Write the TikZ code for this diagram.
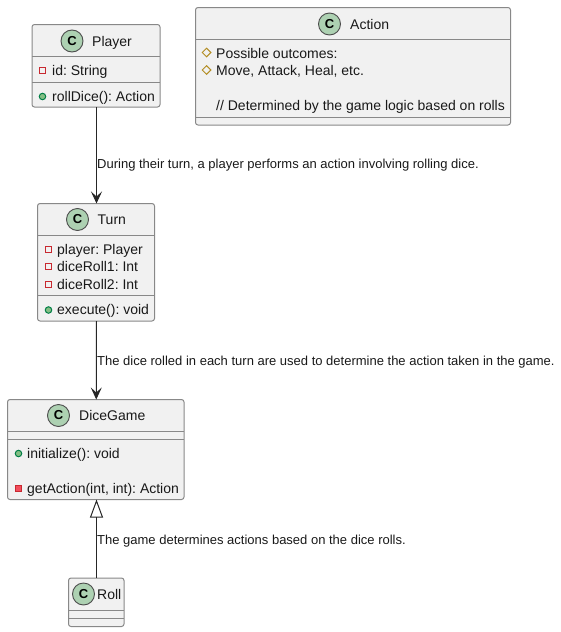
\documentclass[tikz,border=0pt]{standalone}
\usepackage{fontspec}
\setmainfont{Liberation Sans}
\usetikzlibrary{arrows.meta,shapes.geometric}
\definecolor{boxfill}{HTML}{F1F1F1}
\definecolor{boxline}{HTML}{888888}
\definecolor{iconfill}{HTML}{ADD1B2}
\definecolor{privline}{HTML}{C82930}
\definecolor{privfill}{HTML}{F24D5C}
\definecolor{publine}{HTML}{038048}
\definecolor{pubfill}{HTML}{84BE84}
\definecolor{protline}{HTML}{B38D22}
\frenchspacing
\tikzset{
  classbox/.style={draw=boxline,fill=boxfill,line width=1pt,rounded corners=2.5pt,inner sep=0pt,outer sep=0pt},
  divider/.style={draw=boxline,line width=1pt},
  classicon/.style={circle,draw=black!70,fill=iconfill,line width=0.9pt,minimum size=22pt,inner sep=0pt,font=\fontsize{13}{13}\selectfont\bfseries},
  titletext/.style={anchor=base west,inner sep=0pt,font=\fontsize{14}{16}\selectfont,text=black!90},
  membertext/.style={anchor=base west,inner sep=0pt,font=\fontsize{14}{16}\selectfont,text=black!90},
  edgetext/.style={anchor=base west,inner sep=0pt,font=\fontsize{13}{15}\selectfont,text=black!90},
  privicon/.style={rectangle,draw=privline,line width=1pt,minimum size=6.5pt,inner sep=0pt},
  privfilled/.style={privicon,fill=privfill},
  pubicon/.style={circle,draw=publine,fill=pubfill,line width=1pt,minimum size=6.5pt,inner sep=0pt},
  proticon/.style={diamond,draw=protline,line width=1pt,minimum size=9pt,inner sep=0pt},
  link/.style={draw=black!85,line width=1pt},
  assoc/.style={link,-{Stealth[length=12pt,width=11pt,inset=5pt]}},
  inherit/.style={link,-{Triangle[open,length=18pt,width=13pt]}},
}
\begin{document}
\begin{tikzpicture}[x=1pt,y=-1pt]
\useasboundingbox (0,0) rectangle (561,632);
% boxes
\node[classbox,minimum width=128pt,minimum height=82.5pt] (player) at (96,65.75) {};
\node[classbox,minimum width=315pt,minimum height=117.5pt] (action) at (353,66.25) {};
\node[classbox,minimum width=117pt,minimum height=117.5pt] (turn) at (96,262.25) {};
\node[classbox,minimum width=176.5pt,minimum height=100pt] (dicegame) at (95.75,449.5) {};
\node[classbox,minimum width=55.5pt,minimum height=48.5pt] (roll) at (96.25,602.25) {};
% dividers
\draw[divider] (player.west |- 0,56.5) -- (player.east |- 0,56.5);
\draw[divider] (player.west |- 0,82.5) -- (player.east |- 0,82.5);
\draw[divider] (action.west |- 0,39.5) -- (action.east |- 0,39.5);
\draw[divider] (action.west |- 0,117.5) -- (action.east |- 0,117.5);
\draw[divider] (turn.west |- 0,235.5) -- (turn.east |- 0,235.5);
\draw[divider] (turn.west |- 0,295.5) -- (turn.east |- 0,295.5);
\draw[divider] (dicegame.west |- 0,431.5) -- (dicegame.east |- 0,431.5);
\draw[divider] (dicegame.west |- 0,439.5) -- (dicegame.east |- 0,439.5);
\draw[divider] (roll.west |- 0,610.5) -- (roll.east |- 0,610.5);
\draw[divider] (roll.west |- 0,618.5) -- (roll.east |- 0,618.5);
% class icons and titles
\node[classicon] (playericon) at (72,41) {C};
\node[titletext] (playertitle) at (92,46) {Player};
\node[classicon] (actionicon) at (329.5,24) {C};
\node[titletext] (actiontitle) at (350,29) {Action};
\node[classicon] (turnicon) at (77.5,219.5) {C};
\node[titletext] (turntitle) at (97.5,224) {Turn};
\node[classicon] (diceicon) at (58.5,415.5) {C};
\node[titletext] (dicetitle) at (79,420) {DiceGame};
\node[classicon] (rollicon) at (83.5,594) {C};
\node[titletext] (rolltitle) at (97,599) {Roll};
% members
\node[privicon] (m1i) at (42.5,70.5) {};
\node[membertext] (m1) at (52,75) {id: String};
\node[pubicon] (m2i) at (42.5,96.5) {};
\node[membertext] (m2) at (52,101) {rollDice(): Action};
\node[proticon] (a1i) at (206.5,52.5) {};
\node[membertext] (a1) at (216,58) {Possible outcomes:};
\node[proticon] (a2i) at (206.5,70) {};
\node[membertext] (a2) at (216,75) {Move, Attack, Heal, etc.};
\node[membertext] (a3) at (216,110) {// Determined by the game logic based on rolls};
\node[privicon] (t1i) at (48.5,249.5) {};
\node[membertext] (t1) at (57,254) {player: Player};
\node[privicon] (t2i) at (48.5,266.5) {};
\node[membertext] (t2) at (57,271) {diceRoll1: Int};
\node[privicon] (t3i) at (48.5,284.5) {};
\node[membertext] (t3) at (57,289) {diceRoll2: Int};
\node[pubicon] (t4i) at (48.5,310) {};
\node[membertext] (t4) at (57,314) {execute(): void};
\node[pubicon] (d1i) at (18.5,453.5) {};
\node[membertext] (d1) at (27,458) {initialize(): void};
\node[privfilled] (d2i) at (18.5,488.5) {};
\node[membertext] (d2) at (27,493) {getAction(int, int): Action};
% connectors
\draw[assoc] ([xshift=.5pt]player.south) -- ([xshift=.5pt]turn.north);
\draw[assoc] ([xshift=.5pt]turn.south) -- ([xshift=.5pt]dicegame.north);
\draw[inherit] ([xshift=.25pt]roll.north) -- ([xshift=.75pt]dicegame.south);
% connector labels
\node[edgetext] (l1) at (97,168) {During their turn, a player performs an action involving rolling dice.};
\node[edgetext] (l2) at (97,365) {The dice rolled in each turn are used to determine the action taken in the game.};
\node[edgetext] (l3) at (97,544) {The game determines actions based on the dice rolls.};
\end{tikzpicture}
\end{document}
